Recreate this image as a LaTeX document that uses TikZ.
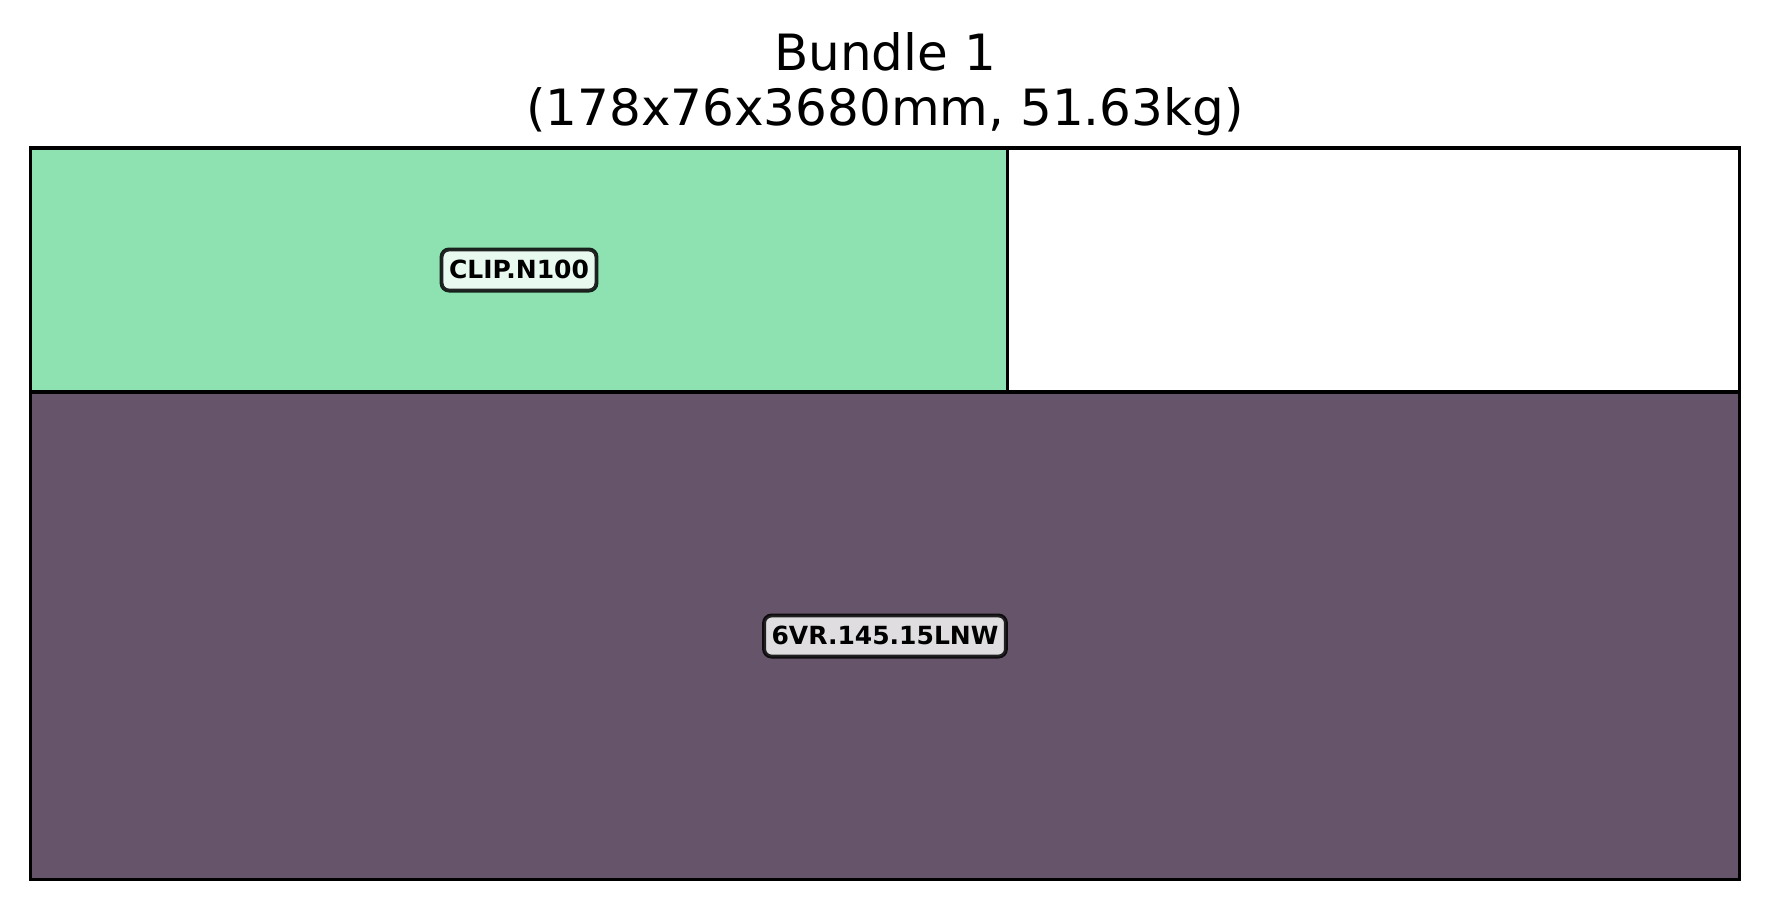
\documentclass[tikz,border=0pt]{standalone}
\usepackage{fontspec}
\setmainfont{DejaVu Sans}
\definecolor{clipgreen}{RGB}{142,226,177}
\definecolor{vrpurple}{RGB}{102,85,106}
\begin{document}
\begin{tikzpicture}[x=0.36pt,y=-0.36pt,
  part/.style={draw=black,line width=1.3pt},
  lbl/.style={font=\bfseries\fontsize{9}{11}\selectfont, fill=white, fill opacity=0.8, text opacity=1,
    draw=black, draw opacity=0.85, rounded corners=2.7pt, line width=1.4pt,
    inner xsep=2.7pt, inner ysep=2.7pt, text height=7.9pt, text depth=1.5pt},
  ttl/.style={font=\fontsize{18}{22}\selectfont, inner sep=0pt, anchor=base}]
\useasboundingbox (0,0) rectangle (1770,911);
\fill[white] (0,0) rectangle (1770,911);
\draw[part, fill=white] (30.5,148) rectangle (1739.5,879.3);
\draw[part, fill=clipgreen] (30.5,148) rectangle (1007.5,391.7);
\draw[part, fill=vrpurple] (30.5,391.7) rectangle (1739.5,879.3);
\node[lbl] (clip) at (519,270) {CLIP.N100};
\node[lbl] (vr) at (885,636) {6VR.145.15LNW};
\node[ttl] (t1) at (885,70) {Bundle 1};
\node[ttl] (t2) at (885,125) {(178x76x3680mm, 51.63kg)};
\end{tikzpicture}
\end{document}
